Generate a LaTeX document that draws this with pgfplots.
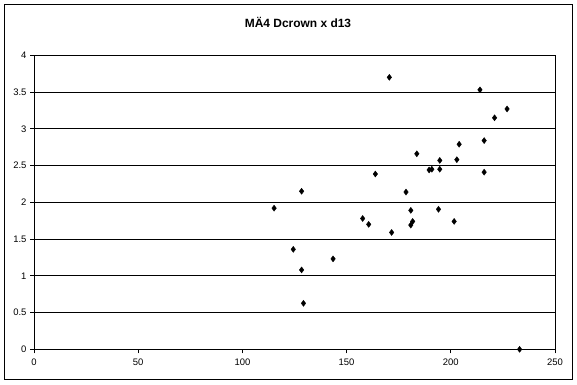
\documentclass[border=0pt]{standalone}
\usepackage{pgfplots}
\pgfplotsset{compat=1.18}
\usepackage{fontspec}
\setmainfont{Liberation Sans}
\begin{document}
\begin{tikzpicture}[x=1bp,y=1bp]
\path (0,0) rectangle (577,384);
\draw[line width=1bp] (4.3,4.7) rectangle (572.3,379.7);
\node[font=\fontsize{12}{14}\selectfont\bfseries] at (298,361.3) {MÄ4 Dcrown x d13};
\begin{axis}[
  at={(34bp,34.7bp)}, anchor=south west,
  scale only axis, width=521bp, height=294bp,
  xmin=0, xmax=250, ymin=0, ymax=4,
  xtick={0,50,...,250}, ytick={0,0.5,...,4},
  ymajorgrids, major grid style={line width=1bp, black},
  axis line style={line width=1bp},
  tick style={line width=1bp, black},
  tick align=outside, major tick length=4bp,
  axis x line*=bottom, axis y line*=left,
  separate axis lines,
  every outer x axis line/.append style={-},
  every outer y axis line/.append style={-},
  ticklabel style={font=\fontsize{9.5}{10}\selectfont},
  /pgf/number format/assume math mode=true,
  xticklabel style={yshift=-2bp},
  clip=false,
]
\draw[line width=1bp] (axis cs:250,0) -- (axis cs:250,4);
\addplot[only marks, mark=diamond*, mark size=3bp, black] coordinates {
(170.5,3.70) (214,3.53) (227,3.27) (221,3.15) (216,2.84) (204,2.79)
(183.7,2.66) (194.7,2.57) (202.9,2.58) (189.6,2.44) (190.9,2.45) (194.7,2.45)
(216,2.41) (163.8,2.385) (128.4,2.15) (178.5,2.14) (180.8,1.89) (194.1,1.905)
(157.7,1.78) (160.6,1.70) (181.7,1.74) (180.8,1.69) (201.6,1.74) (171.6,1.59)
(124.4,1.36) (143.5,1.23) (128.4,1.08) (129.3,0.626) (233,0) (115.2,1.92)
};
\end{axis}
\end{tikzpicture}
\end{document}
